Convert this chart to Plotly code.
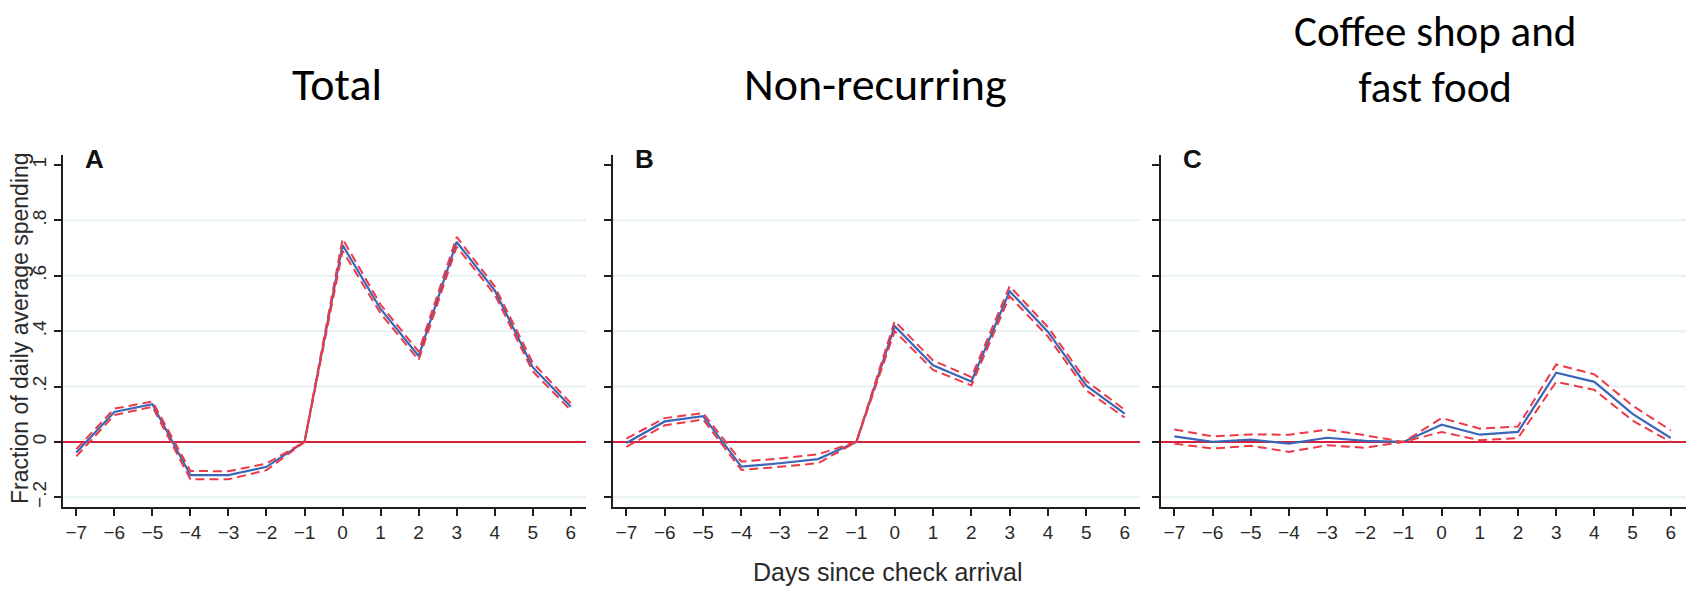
import plotly.graph_objects as go

# Days relative to check arrival
days = list(range(-7, 7))
day_labels = ["\u22127", "\u22126", "\u22125", "\u22124", "\u22123", "\u22122", "\u22121",
              "0", "1", "2", "3", "4", "5", "6"]

# Panel A: total spending
total_est = [-0.038, 0.108, 0.136, -0.120, -0.120, -0.090, 0.0, 0.711, 0.480, 0.310, 0.722, 0.547, 0.270, 0.127]
total_hi = [-0.026, 0.120, 0.146, -0.105, -0.106, -0.078, 0.0, 0.733, 0.496, 0.326, 0.740, 0.562, 0.286, 0.140]
total_lo = [-0.052, 0.097, 0.127, -0.135, -0.135, -0.102, 0.0, 0.690, 0.464, 0.296, 0.705, 0.532, 0.255, 0.114]

# Panel B: non-recurring spending
nonrec_est = [-0.004, 0.074, 0.093, -0.089, -0.077, -0.062, 0.0, 0.418, 0.277, 0.218, 0.544, 0.397, 0.203, 0.102]
nonrec_hi = [0.012, 0.086, 0.104, -0.071, -0.060, -0.045, 0.0, 0.436, 0.294, 0.234, 0.562, 0.414, 0.220, 0.116]
nonrec_lo = [-0.018, 0.060, 0.081, -0.101, -0.090, -0.077, 0.0, 0.400, 0.260, 0.204, 0.526, 0.380, 0.186, 0.088]

# Panel C: coffee shop and fast food
coffee_est = [0.020, 0.000, 0.008, -0.006, 0.015, 0.004, 0.0, 0.062, 0.026, 0.036, 0.250, 0.217, 0.101, 0.014]
coffee_hi = [0.045, 0.020, 0.027, 0.026, 0.044, 0.024, 0.0, 0.086, 0.048, 0.056, 0.280, 0.244, 0.131, 0.042]
coffee_lo = [-0.006, -0.024, -0.014, -0.036, -0.012, -0.021, 0.0, 0.036, 0.006, 0.014, 0.217, 0.188, 0.077, 0.000]

y_ticks = [-0.2, 0, 0.2, 0.4, 0.6, 0.8, 1]
y_labels = ["\u2212.2", "0", ".2", ".4", ".6", ".8", "1"]
grid_levels = [-0.2, 0.2, 0.4, 0.6, 0.8]

panels = [
    ("A", total_est, total_hi, total_lo),
    ("B", nonrec_est, nonrec_hi, nonrec_lo),
    ("C", coffee_est, coffee_hi, coffee_lo),
]
# Panel headings: (text, centre x px, centre y px, font size)
headings = [
    ("Total", 337, 84, 46),
    ("Non-recurring", 875, 84, 46),
    ("Coffee shop and<br>fast food", 1435, 59, 43),
]

W, H = 1686, 599
x_domains = [(63 / W, 586 / W), (613 / W, 1140 / W), (1161 / W, 1.0)]
y_domain = (1 - 507 / H, 1 - 155 / H)

BLUE = "#3b67b8"
RED_CI = "#ec3a46"
RED_ZERO = "#d2223c"
GRID = "#e6f0f5"
AXIS = "#1e1e1e"
TEXT = "#2a2a2a"
SANS = "Liberation Sans, Arial, sans-serif"

fig = go.Figure()
shapes = []
annotations = []

for i, (letter, est, hi, lo) in enumerate(panels):
    n = "" if i == 0 else str(i + 1)
    xa, ya = "x" + n, "y" + n
    fig.add_trace(go.Scatter(x=days, y=est, mode="lines", xaxis=xa, yaxis=ya,
                             line=dict(color=BLUE, width=2.2), showlegend=False))
    for band in (hi, lo):
        fig.add_trace(go.Scatter(x=days, y=band, mode="lines", xaxis=xa, yaxis=ya,
                                 line=dict(color=RED_CI, width=2, dash="9px,5px"),
                                 showlegend=False))

    for g in grid_levels:
        shapes.append(dict(type="line", xref=xa + " domain", yref=ya, x0=0, x1=1, y0=g, y1=g,
                           line=dict(color=GRID, width=2), layer="below"))
    shapes.append(dict(type="line", xref=xa + " domain", yref=ya, x0=0, x1=1, y0=0, y1=0,
                       line=dict(color=RED_ZERO, width=2), layer="below"))

    axis_common = dict(showgrid=False, zeroline=False, showline=True, linecolor=AXIS,
                       linewidth=2, ticks="outside", ticklen=7, tickwidth=1.5, tickcolor=AXIS)
    fig.update_layout(**{
        ("xaxis" + n): dict(domain=list(x_domains[i]), range=[-7.35, 6.4], anchor=ya,
                            tickvals=days, ticktext=day_labels,
                            tickfont=dict(family=SANS, size=19, color=TEXT),
                            **axis_common),
        ("yaxis" + n): dict(domain=list(y_domain), range=[-0.235, 1.036], anchor=xa,
                            tickvals=y_ticks, ticktext=y_labels if i == 0 else [""] * len(y_ticks),
                            showticklabels=(i == 0), tickangle=-90,
                            tickfont=dict(family=SANS, size=19, color=TEXT),
                            **axis_common),
    })

    annotations.append(dict(text="<b>" + letter + "</b>", xref="paper", yref="paper",
                            x=(x_domains[i][0] * W + 31) / W, y=1 - 159 / H,
                            xanchor="center", yanchor="middle", showarrow=False,
                            font=dict(family=SANS, size=26, color="#111")))

for t, px, py, fs in headings:
    annotations.append(dict(text=t, xref="paper", yref="paper", x=px / W, y=1 - py / H,
                            xanchor="center", yanchor="middle", showarrow=False,
                            font=dict(family="Carlito, Lato, sans-serif", size=fs, color="#000")))

annotations.append(dict(text="Days since check arrival", xref="paper", yref="paper",
                        x=888 / W, y=1 - 572 / H, xanchor="center", yanchor="middle",
                        showarrow=False, font=dict(family=SANS, size=25, color=TEXT)))
annotations.append(dict(text="Fraction of daily average spending", xref="paper", yref="paper",
                        x=20 / W, y=1 - 328 / H, xanchor="center", yanchor="middle",
                        textangle=-90, showarrow=False,
                        font=dict(family=SANS, size=23, color=TEXT)))

fig.update_layout(width=W, height=H, margin=dict(l=0, r=0, t=0, b=0),
                  paper_bgcolor="white", plot_bgcolor="white",
                  shapes=shapes, annotations=annotations, showlegend=False)

fig.write_html("out.html")
